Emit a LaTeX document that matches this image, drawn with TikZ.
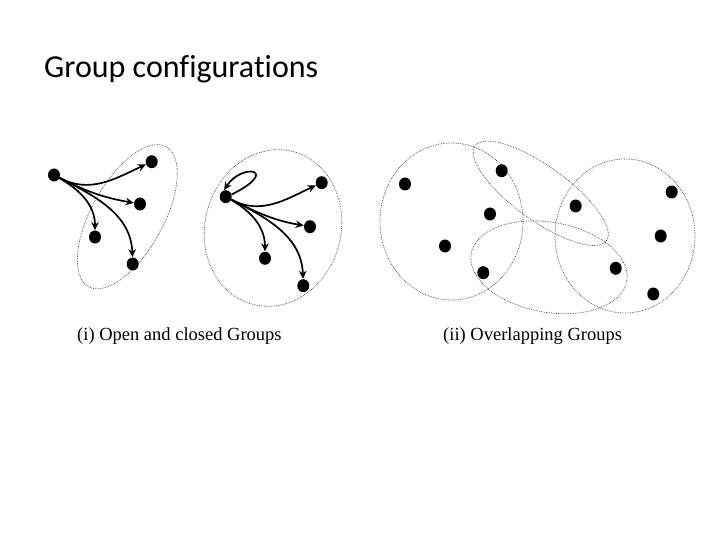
\documentclass[tikz,border=0pt]{standalone}
\usepackage{fontspec}
\setmainfont[Ligatures=NoCommon]{Carlito}
\newfontfamily\capfont{Liberation Serif}
\usetikzlibrary{arrows.meta,shapes.geometric}
\begin{document}
\begin{tikzpicture}[x=1pt,y=1pt,
  dot/.style={ellipse,fill=black,inner sep=0pt,minimum width=12pt,minimum height=13pt},
  grp/.style={draw=black!75,densely dotted,line width=0.7pt},
  arr/.style={line width=1.7pt,-{Stealth[length=8pt,width=7.5pt]},shorten >=0.2pt},
  captext/.style={anchor=base west,inner sep=0pt,font=\capfont\fontsize{18.5}{22}\selectfont}]
\useasboundingbox (0,0) rectangle (720,-540);
\node[anchor=base west,inner sep=0pt,font=\fontsize{32}{38}\selectfont] (title) at (44,-78) {Group configurations};

% (i) open group
\node[dot] (a)  at (54,-175) {};
\node[dot] (a1) at (151.7,-161.7) {};
\node[dot] (a2) at (140,-204) {};
\node[dot] (a3) at (95,-237) {};
\node[dot] (a4) at (132.7,-264) {};
\draw[grp,rotate around={61:(127.3,-216.7)}] (127.3,-216.7) ellipse [x radius=80,y radius=36];
\draw[arr] (a) to[out=-28,in=205] (a1);
\draw[arr] (a) to[out=-27,in=170] (a2);
\draw[arr] (a) to[out=-30,in=90] (a3);
\draw[arr] (a) to[out=-27,in=92] (a4);

% (i) closed group
\node[dot] (b)  at (225.7,-196.7) {};
\node[dot] (b1) at (321.7,-182.7) {};
\node[dot] (b2) at (310,-226.7) {};
\node[dot] (b3) at (265,-258.3) {};
\node[dot] (b4) at (303.3,-285.7) {};
\draw[grp,rotate around={-15:(273,-228)}] (273,-228) ellipse [x radius=68,y radius=79];
\draw[arr] (b.20) .. controls +(50,25) and +(18,28) .. (b.105);
\draw[arr] (b) to[out=-28,in=205] (b1);
\draw[arr] (b) to[out=-27,in=170] (b2);
\draw[arr] (b) to[out=-30,in=90] (b3);
\draw[arr] (b) to[out=-27,in=92] (b4);

% (ii) overlapping groups
\node[dot] (c1)  at (405,-184) {};
\node[dot] (c2)  at (501.7,-170.7) {};
\node[dot] (c3)  at (490,-214) {};
\node[dot] (c4)  at (445,-246) {};
\node[dot] (c5)  at (483.3,-272.7) {};
\node[dot] (c6)  at (575.7,-206) {};
\node[dot] (c7)  at (671.7,-192) {};
\node[dot] (c8)  at (660.7,-236) {};
\node[dot] (c9)  at (615.7,-268.3) {};
\node[dot] (c10) at (653.3,-294) {};
\draw[grp] (451.5,-221.5) ellipse [x radius=71.5,y radius=78.5];
\draw[grp,rotate around={-35.8:(540.7,-193.3)}] (540.7,-193.3) ellipse [x radius=81,y radius=27];
\draw[grp,rotate around={-10:(549,-267.3)}] (549,-267.3) ellipse [x radius=79,y radius=45];
\draw[grp] (625,-236) ellipse [x radius=70,y radius=77];

\node[captext] (cap1) at (77,-340) {(i) Open and closed Groups};
\node[captext] (cap2) at (443,-340) {(ii) Overlapping Groups};
\end{tikzpicture}
\end{document}
